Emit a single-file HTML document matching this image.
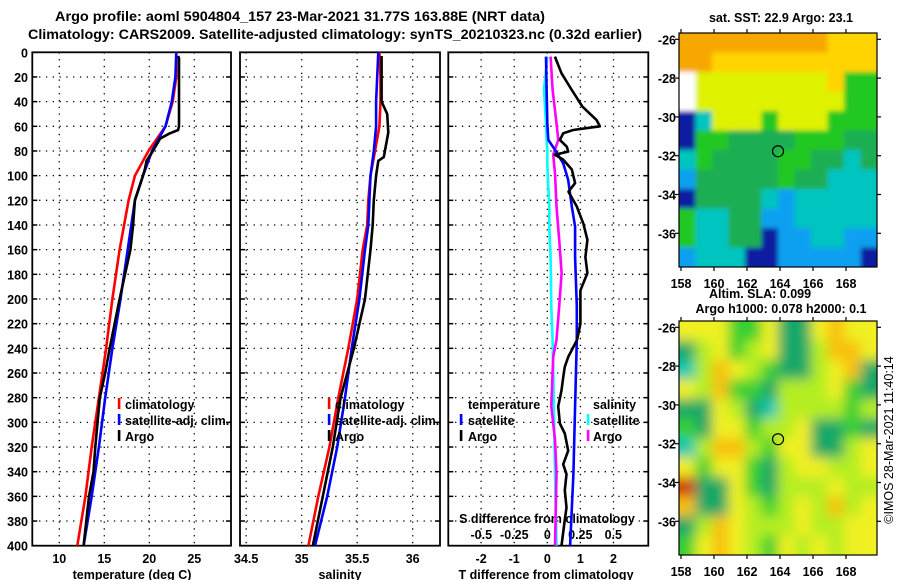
<!DOCTYPE html>
<html><head><meta charset="utf-8"><style>
html,body{margin:0;padding:0;background:#fff;}
svg{display:block;font-family:"Liberation Sans",Arial,sans-serif;font-weight:bold;}
</style></head><body>
<svg id="chart" width="900" height="580" viewBox="0 0 900 580" xmlns="http://www.w3.org/2000/svg">
<defs>
<filter id="blur" x="-5%" y="-5%" width="110%" height="110%"><feGaussianBlur stdDeviation="6"/></filter>
<filter id="blur2" x="-5%" y="-5%" width="110%" height="110%"><feGaussianBlur stdDeviation="2.5"/></filter>
<clipPath id="clipSst"><rect x="679" y="33" width="198" height="234"/></clipPath>
<clipPath id="clipSla"><rect x="679" y="321" width="198" height="234"/></clipPath>
</defs>
<text x="55" y="21" font-size="14" textLength="490" lengthAdjust="spacingAndGlyphs">Argo profile: aoml 5904804_157 23-Mar-2021 31.77S 163.88E (NRT data)</text>
<text x="28" y="39" font-size="14" textLength="614" lengthAdjust="spacingAndGlyphs">Climatology: CARS2009. Satellite-adjusted climatology: synTS_20210323.nc (0.32d earlier)</text>
<g id="g"></g>
</svg>
<script>
// ---------- data ----------
const stdDepths = [0,20,40,60,80,100,120,140,160,200,240,280,320,360,400];
const tempClim = [23.0,23.0,22.6,21.8,19.9,18.4,17.7,17.2,16.7,15.9,15.2,14.4,13.6,12.9,12.0];
const tempSat = [23.0,22.9,22.5,21.8,20.3,19.3,18.4,18.0,17.6,16.8,15.9,15.1,14.4,13.6,12.7];
const argoTDepths = [3,5,60,63,66,70,75,80,88,95,100,120,140,160,200,240,260,280,320,340,360,380,400];
const tempArgo = [23.2,23.3,23.3,23.2,22.2,21.2,20.8,20.4,19.7,19.5,19.3,18.4,18.2,17.9,16.7,15.6,15.1,14.5,14.0,13.8,13.3,13.0,12.7];
const salClim = [35.70,35.71,35.71,35.70,35.66,35.62,35.60,35.59,35.55,35.50,35.42,35.33,35.25,35.15,35.06];
const salSat = [35.69,35.68,35.67,35.67,35.65,35.62,35.61,35.60,35.57,35.52,35.45,35.39,35.32,35.23,35.12];
const argoSDepths = [3,40,50,65,80,85,88,100,120,140,160,200,240,280,320,360,400];
const salArgo = [35.72,35.72,35.77,35.78,35.75,35.74,35.69,35.67,35.65,35.64,35.62,35.57,35.47,35.35,35.28,35.19,35.10];
const dArgoTDepths = [3.5,17,30.6,44,55,60,63,65.7,71,76.5,80.5,83,87,95,106,113,125,139,152,166,179,193,206,220,233,247,255,260,274,287,301,309,323,334,342,355,369,379,400];
const dTArgo = [0.23,0.43,0.74,1.06,1.49,1.59,0.78,0.48,0.38,0.59,0.63,0.23,0.48,0.74,0.84,0.64,0.89,1.09,1.21,1.15,1.21,1.0,1.0,1.0,0.9,0.63,0.53,0.5,0.43,0.33,0.38,0.53,0.63,0.48,0.58,0.53,0.58,0.53,0.43];
const dSatDepths = [3.5,30.6,57.6,71,79,90,103.5,125,141.4,166,206,233,287,342,400];
const dTSat = [-0.04,-0.02,0,0.03,0.23,0.48,0.63,0.74,0.84,0.84,0.89,0.89,0.84,0.79,0.69];
const dSSat = [0,-0.025,-0.01,-0.005,0,0,0.005,0.015,0.015,0.025,0.03,0.04,0.05,0.058,0.07];
const dSArgoDepths = [3.5,30.6,57.6,71,83,98,125,152,179,206,233,247,287,314,342,400];
const dSArgo = [0.025,0.04,0.07,0.083,0.045,0.058,0.07,0.09,0.108,0.09,0.07,0.045,0.03,0.058,0.07,0.058];
const depthTicks = [0,20,40,60,80,100,120,140,160,180,200,220,240,260,280,300,320,340,360,380,400];
const tTicks = [10,15,20,25];
const sTicks = [34.5,35,35.5,36];
const dtTicks = [-2,-1,0,1,2];
const dsTicks = [-0.5,-0.25,0,0.25,0.5];
const latTicks = [-26,-28,-30,-32,-34,-36];
const lonTicks = [158,160,162,164,166,168];
const sstGrid = ["OOOOOOOOOYYY","OOYYYYYYYYYY","WLLLLLLLLYGG","WLLLLLLLLLGG","NCLLLGLLLGGG","NGGDDDDGGGDD","CGDDDDGGDDCD","BDDDDDGDDCCC","NDDDDCBCCCCC","GCCDDBBCCCCC","GCCDDNBBCCBB","BCCCNNBBBBBN"];
const slaGrid = ["YYYGGYTTYOYY","TLYGLYTTLOOY","ALOYLGTTLYOT","YLOGGTLLLYGT","TTYLTALLLLGL","GTYYGLLYTTGT","ALOOLGYYTTLY","YGYYGTLYYLLY","RTTYGTLLLYLL","OTTYLGLYLOLY","TLOYLLLYLLYY","GYOYLGYLYLYY"];
const floatLon = 163.88, floatLat = -31.77;

// ---------- helpers ----------
const NS="http://www.w3.org/2000/svg";
const G=document.getElementById('g');
function el(tag,attrs,parent){const e=document.createElementNS(NS,tag);for(const k in attrs)e.setAttribute(k,attrs[k]);(parent||G).appendChild(e);return e;}
function txt(s,x,y,size,anchor,parent){const t=el('text',{x:x,y:y,'font-size':size,'text-anchor':anchor||'start'},parent);t.textContent=s;return t;}
const top0=52.3, yScale=1.2335;
const yD=d=>top0+d*yScale;
const xT=t=>59.3+(t-10)*9;
const xS=s=>301.7+(s-35)*111;
const xDT=v=>547.3+v*33.1;
const xDS=v=>547.3+v*132;
const panels=[{x0:32.3,x1:231},{x0:240,x1:440},{x0:448.3,x1:648.3}];
const bottom=yD(400);

panels.forEach((p,i)=>{
  const g=el('g',{});
  
  
  depthTicks.forEach(d=>{
    if(d>0&&d<400){const l=el('line',{x1:p.x0,x2:p.x1,y1:yD(d),y2:yD(d),stroke:'#000','stroke-width':1.3,'stroke-dasharray':'1.3,5.5'},g);
      }
    el('line',{x1:p.x0,x2:p.x0+5,y1:yD(d),y2:yD(d),stroke:'#000','stroke-width':1.5},g);
    el('line',{x1:p.x1-5,x2:p.x1,y1:yD(d),y2:yD(d),stroke:'#000','stroke-width':1.5},g);
  });
  const xs = i==0?tTicks.map(xT):i==1?sTicks.map(xS):dtTicks.map(xDT);
  xs.forEach(x=>{
    const l=el('line',{x1:x,x2:x,y1:top0,y2:bottom,stroke:'#000','stroke-width':1.3,'stroke-dasharray':'1.3,5.5'},g);
    
  });
  const r=el('rect',{x:p.x0,y:top0,width:p.x1-p.x0,height:bottom-top0,fill:'none',stroke:'#000','stroke-width':1.8},g);
  
});
depthTicks.forEach(d=>{const t=txt(String(d),28,yD(d)+5,12.5,'end');
  });
tTicks.forEach(v=>{const t=txt(String(v),xT(v),563,12.5,'middle');});
sTicks.forEach(v=>{const t=txt(String(v),xS(v),563,12.5,'middle');});
dtTicks.forEach(v=>{const t=txt(String(v),xDT(v),563,12.5,'middle');});
dsTicks.forEach(v=>{const t=txt(String(v),xDS(v),539,12.5,'middle');});
let t;
t=txt('temperature (deg C)',132,579,12.5,'middle');
t=txt('salinity',340,579,12.5,'middle');
t=txt('T difference from climatology',546,579,12.5,'middle');
t=txt('S difference from climatology',547,523,12.5,'middle');

function series(depths,vals,xf,color,name){
  const pts=depths.map((d,i)=>xf(vals[i]).toFixed(1)+','+yD(d).toFixed(1)).join(' ');
  const p=el('polyline',{points:pts,fill:'none',stroke:color,'stroke-width':2.6,'stroke-linejoin':'round'});
  
  
}
series(stdDepths,tempClim,xT,'#ff0000','temperature-climatology-line');
series(stdDepths,tempSat,xT,'#0000ff','temperature-satellite-line');
series(argoTDepths,tempArgo,xT,'#000000','temperature-argo-line');
series(stdDepths,salClim,xS,'#ff0000','salinity-climatology-line');
series(stdDepths,salSat,xS,'#0000ff','salinity-satellite-line');
series(argoSDepths,salArgo,xS,'#000000','salinity-argo-line');
series(dSatDepths,dSSat,xDS,'#00ffff','s-diff-satellite-line');
series(dSArgoDepths,dSArgo,xDS,'#ff00ff','s-diff-argo-line');
series(dSatDepths,dTSat,xDT,'#0000ff','t-diff-satellite-line');
series(dArgoTDepths,dTArgo,xDT,'#000000','t-diff-argo-line');

function legItem(mx,tx,y,color,label,name){
  const g=el('g',{});
  
  
  el('rect',{x:mx-1.2,y:y-11,width:2.6,height:11,fill:color},g);
  txt(label,tx,y,12.5,'start',g);
}
legItem(119,125,409,'#ff0000','climatology','legend-climatology');
legItem(119,125,425,'#0000ff','satellite-adj. clim.','legend-satellite-adj');
legItem(119,125,441,'#000000','Argo','legend-argo');
legItem(329,335,409,'#ff0000','climatology','legend-climatology-2');
legItem(329,335,425,'#0000ff','satellite-adj. clim.','legend-satellite-adj-2');
legItem(329,335,441,'#000000','Argo','legend-argo-2');
t=txt('temperature',468,409,12.5);
t=txt('salinity',593,409,12.5);
legItem(461,468,425,'#0000ff','satellite','legend-t-satellite');
legItem(461,468,441,'#000000','Argo','legend-t-argo');
legItem(588,593,425,'#00ffff','satellite','legend-s-satellite');
legItem(588,593,441,'#ff00ff','Argo','legend-s-argo');

// ---------- maps ----------
const sstCol={O:'#f7a800',Y:'#ffd400',L:'#dff200',G:'#22c822',D:'#1aae52',C:'#00c4c0',B:'#10a0f0',N:'#0a1ea0',W:'#ffffff'};
const slaCol={Y:'#f0f020',O:'#f8c010',G:'#38d030',T:'#14a868',A:'#10c8b0',R:'#d03010',L:'#b4ee20'};
function drawMap(y0,grid,cols,name,labelY,filt,clip){
  const x0=679,x1=877,y1=y0+234;
  const lonX=l=>681+(l-158)*16.5;
  const latY=l=>y0+6.3+(-26-l)*19.4;
  const g=el('g',{});
  
  
  const cg=el('g',{'clip-path':'url(#'+clip+')'},g);
  const fg=el('g',{filter:'url(#'+filt+')'},cg);
  const cw=(x1-x0)/12, ch=(y1-y0)/12;
  grid.forEach((row,r)=>{for(let c=0;c<12;c++){
    let x=x0+c*cw, y=y0+r*ch, w=cw+0.5, h=ch+0.5;
    if(c==0){x-=15;w+=15;} if(c==11){w+=15;} if(r==0){y-=15;h+=15;} if(r==11){h+=15;}
    el('rect',{x:x,y:y,width:w,height:h,fill:cols[row[c]]},fg);
  }});
  el('rect',{x:x0,y:y0,width:x1-x0,height:y1-y0,fill:'none',stroke:'#000','stroke-width':1.2},g);
  latTicks.forEach(l=>{const y=latY(l);
    el('line',{x1:x0-4,x2:x0,y1:y,y2:y,stroke:'#000','stroke-width':1.2},g);
    el('line',{x1:x1,x2:x1+4,y1:y,y2:y,stroke:'#000','stroke-width':1.2},g);
    const tl=txt(String(l),676,y+5,12.5,'end');
  });
  lonTicks.forEach(l=>{const x=lonX(l);
    el('line',{x1:x,x2:x,y1:y1,y2:y1+4,stroke:'#000','stroke-width':1.2},g);
    el('line',{x1:x,x2:x,y1:y0-4,y2:y0,stroke:'#000','stroke-width':1.2},g);
    const tl=txt(String(l),x,labelY,12.5,'middle');
  });
  const c=el('circle',{cx:lonX(floatLon),cy:latY(floatLat),r:5.5,fill:'none',stroke:'#000','stroke-width':1.2},g);
  
  
}
drawMap(33,sstGrid,sstCol,'sst-map',288,'blur2','clipSst');
drawMap(321,slaGrid,slaCol,'sla-map',576,'blur','clipSla');
t=txt('sat. SST: 22.9 Argo: 23.1',781,22,12.5,'middle');
t=txt('Altim. SLA: 0.099',760,298,12.5,'middle');
t=txt('Argo h1000: 0.078 h2000: 0.1',781,313,12.5,'middle');
t=txt('©IMOS 28-Mar-2021 11:40:14',0,0,12.5,'middle');
t.setAttribute('font-weight','normal');
t.setAttribute('transform','translate(893,440) rotate(-90)');


</script>
</body></html>
